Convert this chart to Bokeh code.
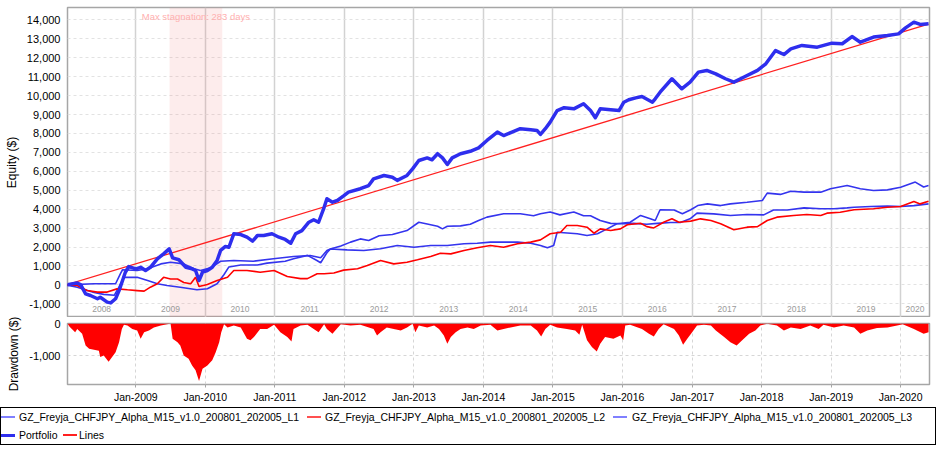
import numpy as np
import pandas as pd
from bokeh.plotting import figure
from bokeh.layouts import column
from bokeh.models import (Range1d, FixedTicker, NumeralTickFormatter, DatetimeTickFormatter,
                          BoxAnnotation, Div)
from bokeh.core.properties import value
from bokeh.embed import file_html
from bokeh.resources import INLINE

# ---------------- data (time as fractional years, values in $) ----------------
series_names = ["GZ_Freyja_CHFJPY_Alpha_M15_v1.0_200801_202005_L1",
                "GZ_Freyja_CHFJPY_Alpha_M15_v1.0_200801_202005_L2",
                "GZ_Freyja_CHFJPY_Alpha_M15_v1.0_200801_202005_L3",
                "Portfolio", "Lines"]

portfolio_t = [2008.00, 2008.16, 2008.21, 2008.28, 2008.35, 2008.45, 2008.49, 2008.59, 2008.64, 2008.71,
               2008.76, 2008.81, 2008.85, 2008.90, 2009.00, 2009.07, 2009.14, 2009.21, 2009.31, 2009.40,
               2009.48, 2009.53, 2009.62, 2009.72, 2009.81, 2009.86, 2009.91, 2009.96, 2010.03, 2010.10,
               2010.17, 2010.22, 2010.29, 2010.34, 2010.41, 2010.51, 2010.60, 2010.68, 2010.75, 2010.84,
               2010.96, 2011.06, 2011.15, 2011.23, 2011.30, 2011.39, 2011.49, 2011.56, 2011.63, 2011.71,
               2011.75, 2011.83, 2011.90, 2011.99, 2012.06, 2012.23, 2012.35, 2012.42, 2012.57, 2012.69,
               2012.76, 2012.90, 2012.98, 2013.07, 2013.19, 2013.26, 2013.34, 2013.41, 2013.48, 2013.55,
               2013.67, 2013.81, 2013.93, 2014.05, 2014.20, 2014.29, 2014.41, 2014.53, 2014.68, 2014.77,
               2014.82, 2014.89, 2014.96, 2015.06, 2015.16, 2015.30, 2015.44, 2015.54, 2015.61, 2015.68,
               2015.83, 2015.95, 2016.02, 2016.09, 2016.19, 2016.28, 2016.43, 2016.47, 2016.54, 2016.71,
               2016.85, 2016.97, 2017.09, 2017.21, 2017.34, 2017.48, 2017.60, 2017.74, 2017.94, 2018.06,
               2018.20, 2018.32, 2018.42, 2018.58, 2018.80, 2019.01, 2019.16, 2019.30, 2019.42, 2019.61,
               2019.81, 2019.97, 2020.07, 2020.19, 2020.28, 2020.40]
portfolio_v = [0, 100, 0, -470, -560, -730, -650, -910, -950, -730,
               -300, 230, 670, 970, 850, 930, 760, 930, 1380, 1640,
               1900, 1430, 1330, 930, 850, 760, 230, 670, 760, 930,
               1290, 1820, 2030, 1990, 2700, 2660, 2520, 2310, 2610, 2610,
               2700, 2520, 2400, 2200, 2700, 2870, 3310, 3440, 3310, 4100,
               4550, 4370, 4460, 4700, 4900, 5080, 5250, 5600, 5780, 5690,
               5520, 5780, 6130, 6570, 6710, 6610, 6930, 6710, 6360, 6710,
               6930, 7060, 7240, 7630, 8070, 7890, 8070, 8250, 8190, 8160,
               7950, 8250, 8600, 9210, 9360, 9300, 9570, 9210, 8830, 9300,
               9250, 9210, 9650, 9780, 9880, 9950, 9650, 9830, 10180, 10890,
               10360, 10710, 11240, 11330, 11150, 10890, 10710, 10970, 11330, 11680,
               12380, 12170, 12470, 12650, 12560, 12770, 12740, 13120, 12820, 13090,
               13170, 13260, 13580, 13880, 13760, 13790]

l1_t = [2008.00, 2008.40, 2008.71, 2008.78, 2008.81, 2009.02, 2009.17, 2009.36, 2009.50, 2009.69,
        2009.84, 2009.93, 2010.08, 2010.22, 2010.41, 2010.69, 2010.98, 2011.27, 2011.51, 2011.66,
        2011.75, 2011.80, 2011.95, 2012.09, 2012.23, 2012.35, 2012.50, 2012.69, 2012.90, 2013.07,
        2013.19, 2013.34, 2013.41, 2013.48, 2013.67, 2013.81, 2013.93, 2014.05, 2014.29, 2014.53,
        2014.72, 2014.82, 2014.96, 2015.10, 2015.30, 2015.44, 2015.54, 2015.68, 2015.83, 2015.97,
        2016.16, 2016.35, 2016.50, 2016.69, 2016.83, 2016.97, 2017.07, 2017.31, 2017.55, 2017.79,
        2018.03, 2018.17, 2018.37, 2018.61, 2018.85, 2019.04, 2019.23, 2019.33, 2019.57, 2019.81,
        2020.00, 2020.19, 2020.40]
l1_v = [0, 60, 60, 600, 800, 760, 850, 1110, 1200, 1110,
        850, 760, 900, 1250, 1290, 1250, 1380, 1500, 1550, 1430,
        1820, 1900, 2050, 2260, 2430, 2350, 2600, 2660, 2870, 3310,
        3220, 3100, 2960, 3100, 3120, 3200, 3400, 3580, 3760, 3760,
        3650, 3760, 3850, 3700, 3850, 3650, 3650, 3400, 3250, 3230,
        3250, 3200, 3250, 3300, 3300, 3490, 3790, 3750, 3670, 3720,
        3700, 3960, 3960, 4070, 4020, 4020, 4070, 4100, 4140, 4160,
        4140, 4190, 4280]

l2_t = [2008.00, 2008.16, 2008.30, 2008.45, 2008.59, 2008.73, 2008.88, 2009.02, 2009.12, 2009.21,
        2009.31, 2009.40, 2009.50, 2009.60, 2009.69, 2009.79, 2009.86, 2009.91, 2010.03, 2010.17,
        2010.32, 2010.41, 2010.60, 2010.79, 2010.99, 2011.18, 2011.37, 2011.47, 2011.61, 2011.71,
        2011.85, 2011.99, 2012.19, 2012.33, 2012.52, 2012.71, 2012.90, 2013.05, 2013.24, 2013.38,
        2013.53, 2013.72, 2013.91, 2014.10, 2014.29, 2014.49, 2014.68, 2014.82, 2014.96, 2015.11,
        2015.20, 2015.35, 2015.49, 2015.59, 2015.68, 2015.83, 2015.97, 2016.07, 2016.26, 2016.35,
        2016.45, 2016.59, 2016.71, 2016.81, 2016.98, 2017.12, 2017.27, 2017.41, 2017.60, 2017.79,
        2017.94, 2018.08, 2018.22, 2018.46, 2018.65, 2018.85, 2018.94, 2019.13, 2019.33, 2019.61,
        2019.81, 2020.00, 2020.19, 2020.28, 2020.40]
l2_v = [0, -30, -300, -380, -380, -210, -260, -300, -330, -120,
        60, 400, 310, 310, 130, 60, 400, -80, 20, 230,
        400, 760, 760, 670, 760, 440, 330, 330, 590, 590,
        630, 780, 850, 1020, 1290, 1110, 1200, 1330, 1500, 1670,
        1640, 1820, 1960, 2080, 1990, 2170, 2260, 2380, 2700, 2780,
        3140, 3140, 3050, 2730, 2960, 2870, 2960, 3180, 3260, 3080,
        3010, 3310, 3490, 3310, 3370, 3490, 3400, 3230, 2910, 3050,
        3080, 3400, 3580, 3670, 3720, 3670, 3790, 3840, 3970, 4020,
        4100, 4140, 4410, 4280, 4420]

l3_t = [2008.00, 2008.16, 2008.40, 2008.54, 2008.69, 2008.76, 2008.83, 2009.02, 2009.17, 2009.31,
        2009.45, 2009.64, 2009.88, 2010.03, 2010.17, 2010.27, 2010.34, 2010.51, 2010.75, 2010.89,
        2011.15, 2011.27, 2011.47, 2011.60, 2011.66, 2011.75, 2011.80, 2012.04, 2012.28, 2012.52,
        2012.76, 2013.00, 2013.24, 2013.48, 2013.72, 2013.91, 2014.10, 2014.49, 2014.68, 2014.82,
        2014.92, 2015.01, 2015.06, 2015.35, 2015.49, 2015.64, 2015.78, 2015.92, 2016.11, 2016.26,
        2016.40, 2016.47, 2016.54, 2016.74, 2016.86, 2016.98, 2017.08, 2017.22, 2017.41, 2017.55,
        2017.79, 2018.01, 2018.08, 2018.27, 2018.42, 2018.61, 2018.85, 2018.99, 2019.23, 2019.42,
        2019.61, 2019.81, 2020.00, 2020.21, 2020.33, 2020.40]
l3_v = [0, -120, -400, -500, -550, -100, 400, 400, 230, 60,
        -30, -120, -260, -200, 60, 550, 950, 1050, 1050, 1150,
        1250, 1380, 1560, 1300, 1170, 1700, 1900, 1850, 1820, 1910,
        2080, 1990, 2080, 2080, 2170, 2200, 2260, 2260, 2200, 2080,
        1960, 2080, 2780, 2700, 2610, 2700, 2960, 3230, 3310, 3670,
        3500, 3400, 3970, 3960, 3760, 3970, 4190, 4280, 4190, 4280,
        4370, 4460, 4850, 4780, 4950, 4900, 4900, 5080, 5250, 5080,
        4990, 5020, 5160, 5430, 5170, 5250]

lines_t = [2008.00, 2020.40]
lines_v = [0, 13780]

drawdown_t = [2008.02, 2008.05, 2008.13, 2008.16, 2008.23, 2008.28, 2008.33, 2008.40, 2008.47, 2008.49,
              2008.54, 2008.61, 2008.66, 2008.71, 2008.76, 2008.80, 2008.83, 2008.88, 2008.95, 2009.02,
              2009.07, 2009.12, 2009.19, 2009.26, 2009.36, 2009.45, 2009.50, 2009.53, 2009.60, 2009.64,
              2009.69, 2009.76, 2009.81, 2009.86, 2009.91, 2009.96, 2010.03, 2010.10, 2010.15, 2010.20,
              2010.23, 2010.27, 2010.32, 2010.41, 2010.51, 2010.60, 2010.65, 2010.70, 2010.79, 2010.89,
              2010.99, 2011.08, 2011.18, 2011.24, 2011.27, 2011.37, 2011.47, 2011.56, 2011.63, 2011.71,
              2011.75, 2011.83, 2011.87, 2011.95, 2012.09, 2012.23, 2012.42, 2012.47, 2012.52, 2012.61,
              2012.71, 2012.81, 2012.90, 2012.98, 2013.02, 2013.07, 2013.19, 2013.29, 2013.36, 2013.43,
              2013.48, 2013.53, 2013.60, 2013.67, 2013.77, 2013.86, 2013.96, 2014.10, 2014.20, 2014.29,
              2014.39, 2014.53, 2014.68, 2014.77, 2014.83, 2014.89, 2014.96, 2015.06, 2015.20, 2015.32,
              2015.38, 2015.42, 2015.49, 2015.56, 2015.63, 2015.68, 2015.75, 2015.87, 2015.97, 2016.01,
              2016.04, 2016.11, 2016.28, 2016.38, 2016.45, 2016.52, 2016.59, 2016.74, 2016.81, 2016.87,
              2016.93, 2017.00, 2017.07, 2017.17, 2017.27, 2017.34, 2017.46, 2017.55, 2017.64, 2017.72,
              2017.82, 2017.91, 2017.98, 2018.08, 2018.22, 2018.32, 2018.42, 2018.56, 2018.70, 2018.82,
              2018.89, 2019.04, 2019.18, 2019.33, 2019.42, 2019.52, 2019.66, 2019.81, 2019.95, 2020.03,
              2020.19, 2020.33, 2020.40]
drawdown_v = [0, -100, -270, -170, -320, -680, -780, -810, -840, -1040,
              -990, -1180, -1040, -890, -580, -170, -40, -60, -170, -220,
              -470, -270, -220, -120, -60, -20, 0, -470, -580, -680,
              -990, -1090, -1300, -1450, -1780, -1400, -1300, -1140, -890, -580,
              -270, -20, -120, -60, -120, -470, -520, -420, -170, -170,
              -40, -270, -420, -560, -170, -60, -40, -170, -270, -20,
              -170, -320, -220, -20, -60, -40, -170, -370, -270, -120,
              -170, -220, -120, -10, -270, -60, -120, -60, -170, -370,
              -630, -420, -270, -170, -120, -170, -60, -40, -220, -170,
              -120, -60, -60, -220, -400, -170, -40, -120, -170, -220,
              -350, -40, -520, -730, -870, -630, -420, -470, -370, -520,
              -60, -40, -170, -320, -400, -170, -20, -170, -370, -660,
              -470, -270, -60, -40, -60, -220, -420, -580, -680, -520,
              -320, -220, -60, -10, -60, -220, -120, -170, -60, -170,
              -40, -120, -60, -120, -320, -220, -140, -120, -60, -20,
              -170, -320, -270]

stag_start, stag_end, stag_days = 2009.486, 2010.244, 283
axis_years = list(range(2008, 2021))
x_start, x_end = 2008.02, 2020.414
equity_ticks = list(range(-1000, 14001, 1000))
drawdown_ticks = [-1000, 0]


# ---------------- helpers ----------------
def to_dt(years):
    out = []
    for y in years:
        yi = int(np.floor(y))
        a, b = pd.Timestamp(yi, 1, 1), pd.Timestamp(yi + 1, 1, 1)
        out.append(a + (b - a) * (y - yi))
    return pd.to_datetime(out)


def ms(ts):
    return [t.value / 1e6 for t in ts]


FONT = "Liberation Sans"
BLUE = "#3434ee"
RED = "#ff0000"
FRAME = "#a6a6a6"
W = 940

xr = Range1d(start=ms(to_dt([x_start]))[0], end=ms(to_dt([x_end]))[0])
year_ticks = ms([pd.Timestamp(y, 1, 1) for y in axis_years[1:]])


def style_yaxis(ax, label):
    ax.formatter = NumeralTickFormatter(format="0,0")
    ax.major_tick_out = 0
    ax.major_tick_in = 0
    ax.minor_tick_out = 0
    ax.minor_tick_in = 0
    ax.axis_line_color = None
    ax.major_label_standoff = 7
    ax.major_label_text_font = FONT
    ax.major_label_text_font_size = "11px"
    ax.major_label_text_color = "black"
    ax.axis_label = label
    ax.axis_label_text_font = FONT
    ax.axis_label_text_font_size = "12px"
    ax.axis_label_text_font_style = "normal"
    ax.axis_label_text_color = "black"
    ax.axis_label_standoff = 5


# ---------------- equity plot ----------------
p1 = figure(width=W, height=317, x_axis_type="datetime", x_range=xr,
            y_range=Range1d(-1722, 14654), output_backend="svg", toolbar_location=None,
            min_border_left=67, min_border_right=W - 929, min_border_top=7, min_border_bottom=0)
p1.xaxis.visible = False
p1.outline_line_color = FRAME
p1.outline_line_width = 1.5
p1.border_fill_color = "white"

p1.yaxis.ticker = FixedTicker(ticks=equity_ticks)
style_yaxis(p1.yaxis, "Equity ($)")

p1.xgrid.ticker = FixedTicker(ticks=year_ticks)
p1.xgrid.grid_line_color = "#d2d2d2"
p1.xgrid.grid_line_width = 1.5
p1.ygrid.ticker = FixedTicker(ticks=equity_ticks)
p1.ygrid.grid_line_color = "#e2e2e2"
p1.ygrid.grid_line_dash = "3 3"
p1.ygrid.grid_line_width = 1

s0, s1 = ms(to_dt([stag_start, stag_end]))
p1.add_layout(BoxAnnotation(left=s0, right=s1, fill_color="#f08080", fill_alpha=0.15,
                            line_alpha=0, level="underlay"))
p1.text(x=[(s0 + s1) / 2], y=[14180], text=[f"Max stagnation: {stag_days} days"],
        text_align="center", text_baseline="middle", text_font=value(FONT),
        text_font_size="9.5px", text_color="#ffb0b0")

# year labels centred in each visible year span
mids = [(max(y, x_start) + min(y + 1, x_end)) / 2 for y in axis_years]
p1.text(x=to_dt(mids), y=[-1260] * len(mids), text=[str(y) for y in axis_years],
        text_align="center", text_baseline="middle", text_font=value(FONT),
        text_font_size="8.5px", text_color="#9a9a9a")

p1.line(to_dt(lines_t), lines_v, line_color="#ff2020", line_width=1.3)
p1.line(to_dt(l1_t), l1_v, line_color=BLUE, line_width=1.6)
p1.line(to_dt(l3_t), l3_v, line_color=BLUE, line_width=1.6)
p1.line(to_dt(l2_t), l2_v, line_color=RED, line_width=1.6)
p1.line(to_dt(portfolio_t), portfolio_v, line_color="#2e2eee", line_width=3.5,
        line_join="round")

# ---------------- drawdown plot ----------------
p2 = figure(width=W, height=88, x_axis_type="datetime", x_range=xr,
            y_range=Range1d(-1888, 0), output_backend="svg", toolbar_location=None,
            min_border_left=67, min_border_right=W - 929, min_border_top=6, min_border_bottom=21)
p2.outline_line_color = FRAME
p2.outline_line_width = 1.5
p2.varea(x=to_dt(drawdown_t), y1=0, y2=drawdown_v, fill_color=RED, fill_alpha=1)

p2.xaxis.ticker = FixedTicker(ticks=year_ticks)
fmt = "%b-%Y"
p2.xaxis.formatter = DatetimeTickFormatter(years=fmt, months=fmt, days=fmt, hours=fmt,
                                           minutes=fmt, seconds=fmt, milliseconds=fmt)
p2.xaxis.axis_line_color = None
p2.xaxis.major_tick_out = 3
p2.xaxis.major_tick_in = 0
p2.xaxis.minor_tick_out = 0
p2.xaxis.minor_tick_in = 0
p2.xaxis.major_tick_line_color = FRAME
p2.xaxis.major_label_standoff = 3
p2.xaxis.major_label_text_font = FONT
p2.xaxis.major_label_text_font_size = "10.5px"
p2.xaxis.major_label_text_color = "black"

p2.yaxis.ticker = FixedTicker(ticks=drawdown_ticks)
style_yaxis(p2.yaxis, "Drawdown ($)")

p2.xgrid.ticker = FixedTicker(ticks=year_ticks)
p2.xgrid.grid_line_color = "#d6d6d6"
p2.xgrid.grid_line_dash = "3 3"
p2.ygrid.ticker = FixedTicker(ticks=[-1000])
p2.ygrid.grid_line_color = "#d6d6d6"
p2.ygrid.grid_line_dash = "3 3"

# ---------------- legend strip (HTML) ----------------
legend_colors = ["#8080ff", "#ff5050", "#8080ff", "#2e2eee", "#ff2020"]
legend_thick = [2, 2, 2, 3, 2]
legend_row = [0, 0, 0, 1, 1]
legend_icon_x = [0, 306, 612, 0, 62]
legend_text_x = [18, 324, 631, 18, 78]
row_center = [9, 27]

items = []
for name, col, th, r, ix, tx in zip(series_names, legend_colors, legend_thick, legend_row,
                                    legend_icon_x, legend_text_x):
    cy = row_center[r]
    items.append(f'<span style="position:absolute;left:{ix}px;top:{cy - th / 2}px;'
                 f'width:14px;height:{th}px;background:{col};"></span>')
    items.append(f'<span style="position:absolute;left:{tx}px;top:{cy - 7}px;'
                 f'line-height:14px;white-space:nowrap;">{name}</span>')

legend_html = ('<div style="position:relative;box-sizing:border-box;width:936px;height:38px;'
               'margin-top:2px;border:1.5px solid #000;background:#fff;'
               f"font-family:'{FONT}',Arial,sans-serif;font-size:10.5px;color:#000;\">"
               + "".join(items) + "</div>")
leg = Div(text=legend_html, width=W, height=43, margin=0)

layout = column(p1, p2, leg)
open("out.html", "w").write(file_html(layout, INLINE))
